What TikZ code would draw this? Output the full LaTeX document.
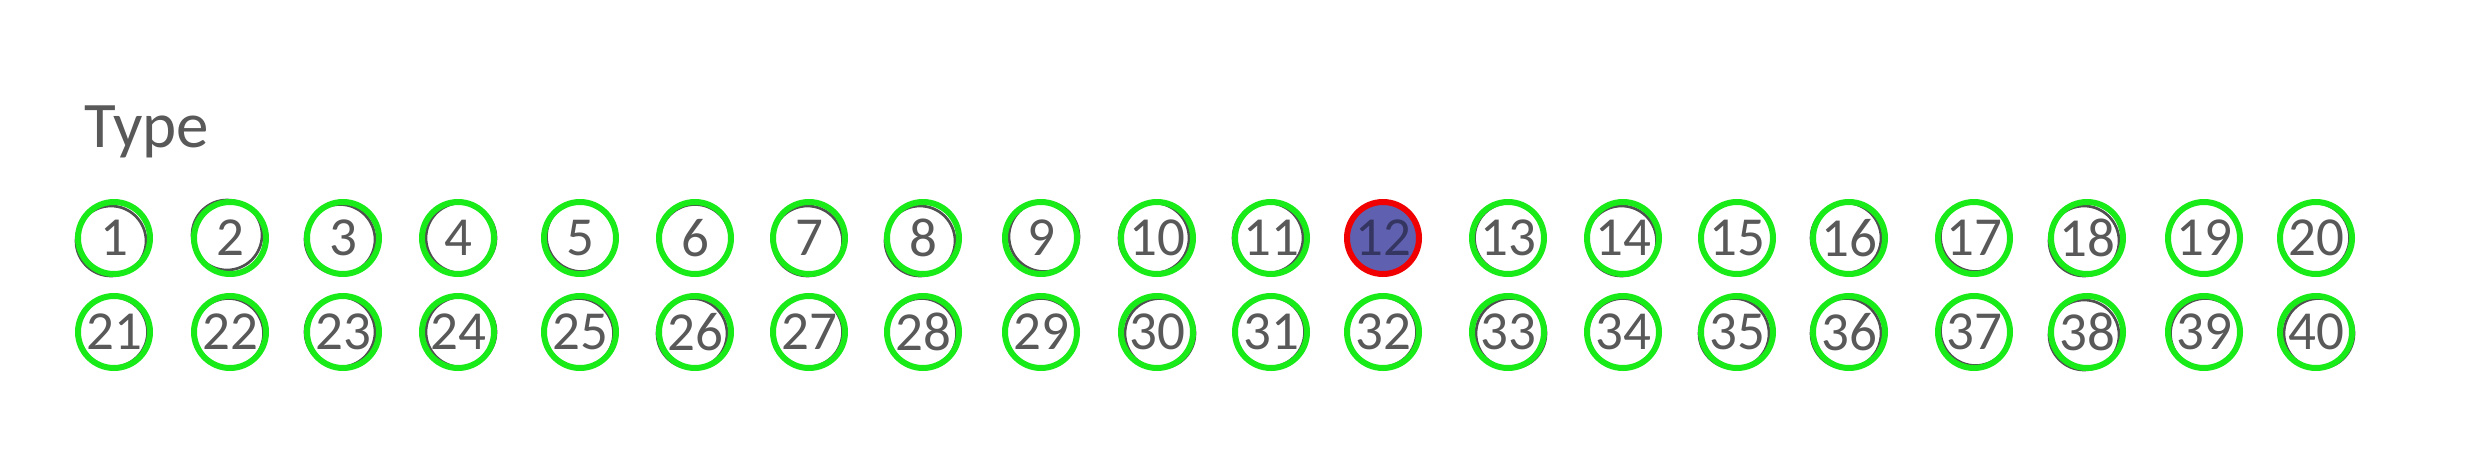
\documentclass[tikz,border=0pt]{standalone}
\usepackage{fontspec}
\setmainfont{Carlito}
\definecolor{txtgrey}{HTML}{595959}
\definecolor{ringgreen}{RGB}{25,235,25}
\definecolor{ringgrey}{HTML}{505050}
\definecolor{ringred}{RGB}{240,0,0}
\definecolor{fillblue}{RGB}{96,96,176}
\tikzset{
  numc/.style={circle, draw=ringgreen, line width=1.8pt, minimum size=21.6pt, inner sep=0pt,
    text=txtgrey, font=\fontsize{16.5}{19}\selectfont},
  redc/.style={circle, draw=ringred, line width=1.8pt, minimum size=21.6pt, inner sep=0pt,
    fill=fillblue, text=fillblue!55!black, font=\fontsize{16.5}{19}\selectfont},
  greyring/.style={draw=ringgrey, line width=0.8pt},
  title/.style={text=txtgrey, font=\fontsize{19.5}{23}\selectfont, inner sep=0pt, anchor=base west}
}
\begin{document}
\begin{tikzpicture}[x=0.3pt,y=-0.3pt]
\useasboundingbox[fill=white] (0,0) rectangle (2480,457);
\node[title] (type) at (84,147) {Type};
% columns x positions, and grey-outline offsets (dx,dy) for both rows
\def\xs{{114,230,343,458,580,695,809,923,1041,1157,1271,1383,1508,1623,1737,1849,1974,2087,2204,2316}}
\def\dxa{{-2,-2,-2,2,1,0,-1,-2,2,-2,-2,0,1,-1,0,-2,1,-2,0,-1}}
\def\dya{{2,-2,1,0,-1,1,2,2,-1,0,0,0,0,2,0,0,-1,2,0,0}}
\def\dxb{{-1,-1,-2,2,-1,-2,-1,-1,0,2,-1,-1,2,0,-2,-2,1,-2,1,2}}
\def\dyb{{0,1,0,0,1,1,0,1,1,1,0,0,1,1,1,1,-1,2,1,1}}
\foreach \k in {0,...,19}{
  \pgfmathsetmacro{\xx}{\xs[\k]}
  \pgfmathsetmacro{\ax}{\dxa[\k]}
  \pgfmathsetmacro{\ay}{\dya[\k]}
  \pgfmathsetmacro{\bx}{\dxb[\k]}
  \pgfmathsetmacro{\by}{\dyb[\k]}
  \pgfmathtruncatemacro{\na}{\k+1}
  \pgfmathtruncatemacro{\nb}{\k+21}
  \ifnum\na=12
    \node[redc] (c\na) at (\xx,238) {\na};
  \else
    \draw[greyring] (\xx+1.5*\ax,238+1.5*\ay) circle (10.5pt);
    \node[numc] (c\na) at (\xx,238) {\na};
  \fi
  \draw[greyring] (\xx+1.5*\bx,332+1.5*\by) circle (10.5pt);
  \node[numc] (c\nb) at (\xx,332) {\nb};
}
\end{tikzpicture}
\end{document}
